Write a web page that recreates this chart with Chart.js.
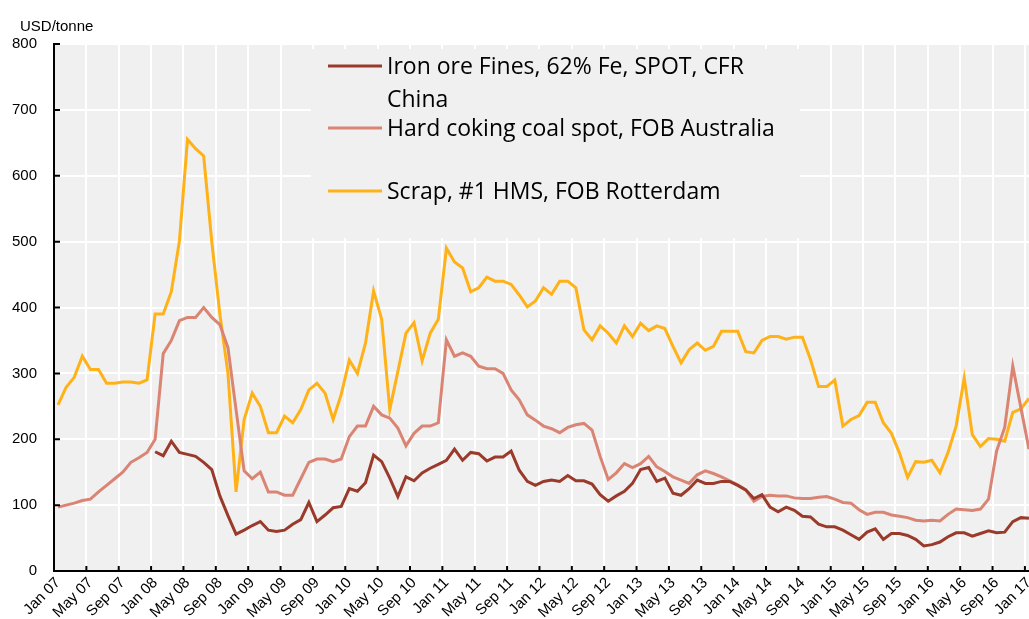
<!DOCTYPE html>
<html>
<head>
<meta charset="utf-8">
<title>Steelmaking raw material prices</title>
<script src="https://cdn.jsdelivr.net/npm/chart.js@4.4.1/dist/chart.umd.min.js"></script>
<style>
  html, body { margin: 0; padding: 0; background: #fff; overflow: hidden; }
  #wrap { width: 1033px; height: 619px; }
</style>
</head>
<body>
<div id="wrap"><canvas id="chart" width="1033" height="619"></canvas></div>
<script>
// monthly, Jan 07 .. Jan 17
const monthNames = ['Jan', 'Feb', 'Mar', 'Apr', 'May', 'Jun', 'Jul', 'Aug', 'Sep', 'Oct', 'Nov', 'Dec'];
const years = ['07', '08', '09', '10', '11', '12', '13', '14', '15', '16', '17'];
const months = [];
years.forEach(y => monthNames.forEach(m => months.push(m + ' ' + y)));
months.length = 121;

const yTicks = [0, 100, 200, 300, 400, 500, 600, 700, 800];

// Iron ore Fines, 62% Fe, SPOT, CFR China (no data in 2007)
const ironOre = [
  null, null, null, null, null, null, null, null, null, null, null, null,
  181, 175, 197, 180, 177, 174, 165, 154, 114, 84, 56, 62,
  69, 75, 62, 60, 62, 71, 78, 104, 75, 85, 96, 98,
  125, 121, 134, 176, 166, 141, 113, 143, 137, 149, 156, 162,
  168, 185, 168, 180, 178, 167, 173, 173, 182, 153, 136, 130,
  136, 138, 136, 145, 137, 137, 132, 116, 106, 114, 121, 133,
  154, 157, 136, 141, 118, 115, 125, 138, 133, 133, 136, 136,
  130, 123, 110, 116, 97, 90, 97, 92, 83, 82, 71, 67,
  67, 62, 55, 48, 59, 64, 48, 57, 57, 54, 48, 38,
  40, 44, 52, 58, 58, 53, 57, 61, 58, 59, 75, 81,
  80
];

// Hard coking coal spot, FOB Australia
const cokingCoal = [
  97, 100, 103, 107, 109, 120, 130, 140, 150, 165, 172, 180,
  200, 330, 350, 380, 385, 385, 400, 385, 374, 339, 245, 152,
  140, 150, 120, 120, 115, 115, 140, 165, 170, 170, 166, 170,
  204, 220, 220, 250, 237, 232, 217, 190, 209, 220, 220, 225,
  351, 326, 331, 326, 311, 307, 307, 300, 275, 260, 237, 229,
  220, 216, 210, 218, 222, 224, 214, 174, 139, 149, 163, 157,
  163, 174, 158, 151, 143, 138, 133, 146, 152, 148, 143, 137,
  131, 123, 106, 113, 115, 114, 114, 111, 110, 110, 112, 113,
  109, 104, 103, 93, 86, 89, 89, 85, 83, 81, 77, 76,
  77, 76, 86, 94, 93, 92, 94, 109, 182, 218, 311, 248,
  185
];

// Scrap, #1 HMS, FOB Rotterdam
const scrap = [
  252, 279, 294, 326, 306, 306, 285, 285, 287, 287, 285, 290,
  390, 390, 424, 501, 655, 641, 630, 500, 390, 300, 120, 230,
  270, 250, 210, 210, 235, 225, 245, 275, 285, 270, 230, 268,
  320, 300, 346, 425, 382, 245, 303, 361, 377, 319, 361, 382,
  490, 469, 460, 424, 430, 446, 440, 440, 435, 419, 401, 410,
  430, 420, 440, 440, 430, 366, 351, 372, 361, 346, 372, 356,
  376, 365, 372, 368, 341, 316, 336, 346, 335, 341, 364, 364,
  364, 333, 331, 350, 356, 356, 352, 355, 355, 321, 280, 280,
  290, 220, 230, 236, 256, 256, 225, 209, 179, 142, 166, 165,
  168, 149, 180, 220, 293, 207, 189, 201, 200, 197, 241, 246,
  262
];

const seriesNames = [
  'Iron ore Fines, 62% Fe, SPOT, CFR China',
  'Hard coking coal spot, FOB Australia',
  'Scrap, #1 HMS, FOB Rotterdam'
];
const legendLines = [
  ['Iron ore Fines, 62% Fe, SPOT, CFR', 'China'],
  ['Hard coking coal spot, FOB Australia'],
  ['Scrap, #1 HMS, FOB Rotterdam']
];
const colors = ['#9a3a2a', '#da8473', '#ffb118'];

const axisFont = { family: '"Liberation Sans", Arial, sans-serif', size: 15 };

// grey plot background, legend box, inner tick marks, unit label
const decor = {
  id: 'decor',
  beforeDraw(chart) {
    const { ctx, chartArea: a } = chart;
    ctx.save();
    ctx.fillStyle = '#f0f0f0';
    ctx.fillRect(a.left, a.top, a.right - a.left, a.bottom - a.top);
    ctx.restore();
  },
  beforeDatasetsDraw(chart) {
    const { ctx } = chart;
    ctx.save();
    ctx.fillStyle = '#f0f0f0';
    ctx.fillRect(311, 49, 489, 189);
    ctx.restore();
  },
  afterDatasetsDraw(chart) {
    const { ctx, chartArea: a, scales } = chart;
    ctx.save();
    // tick marks pointing into the plot
    ctx.strokeStyle = '#000';
    ctx.lineWidth = 2;
    ctx.beginPath();
    scales.y.ticks.forEach(t => {
      const y = scales.y.getPixelForValue(t.value);
      ctx.moveTo(a.left, y);
      ctx.lineTo(a.left + 6, y);
    });
    for (let i = 4; i < months.length; i += 4) {
      const x = scales.x.getPixelForValue(i - 0.5);
      ctx.moveTo(x, a.bottom);
      ctx.lineTo(x, a.bottom - 5);
    }
    ctx.stroke();

    // unit
    ctx.fillStyle = '#000';
    ctx.font = '15px "Liberation Sans", Arial, sans-serif';
    ctx.textBaseline = 'alphabetic';
    ctx.textAlign = 'left';
    ctx.fillText('USD/tonne', 20, 31);

    // legend
    const rowY = [66, 128, 191];
    ctx.font = '23px "Open Sans", "Noto Sans", sans-serif';
    ctx.textBaseline = 'middle';
    chart.data.datasets.forEach((ds, k) => {
      ctx.strokeStyle = ds.borderColor;
      ctx.lineWidth = 3;
      ctx.beginPath();
      ctx.moveTo(328, rowY[k]);
      ctx.lineTo(382, rowY[k]);
      ctx.stroke();
      legendLines[k].forEach((line, j) => {
        ctx.fillText(line, 387, rowY[k] + 1 + j * 33);
      });
    });
    ctx.restore();
  }
};

new Chart(document.getElementById('chart'), {
  type: 'line',
  data: {
    labels: months,
    datasets: [ironOre, cokingCoal, scrap].map((d, k) => ({
      label: seriesNames[k],
      data: d,
      borderColor: colors[k],
      backgroundColor: colors[k],
      borderWidth: 3,
      pointRadius: 0,
      tension: 0,
      spanGaps: false
    }))
  },
  options: {
    responsive: false,
    animation: false,
    layout: { padding: { top: 44, right: 0, left: 0, bottom: 0 } },
    plugins: {
      legend: { display: false },
      tooltip: { enabled: false }
    },
    scales: {
      x: {
        offset: true,
        afterFit: s => { s.height = 48; s.paddingLeft = 0; s.paddingRight = 0; },
        grid: {
          offset: true,
          drawTicks: false,
          lineWidth: 2,
          color: c => (c.index % 4 === 0 ? '#ffffff' : 'rgba(0,0,0,0)')
        },
        border: { color: '#000', width: 2 },
        ticks: {
          autoSkip: false,
          maxRotation: 45,
          minRotation: 45,
          padding: 3,
          color: '#000',
          font: axisFont,
          callback: function (v, i) { return i % 4 === 0 ? this.getLabelForValue(v) : ''; }
        }
      },
      y: {
        min: 0,
        max: 800,
        afterFit: s => { s.width = 54; s.paddingTop = 0; s.paddingBottom = 0; },
        afterBuildTicks: s => { s.ticks = yTicks.map(v => ({ value: v })); },
        grid: { drawTicks: false, lineWidth: 2, color: '#ffffff' },
        border: { color: '#000', width: 2 },
        ticks: { padding: 17, color: '#000', font: axisFont }
      }
    }
  },
  plugins: [decor]
});
</script>
</body>
</html>
